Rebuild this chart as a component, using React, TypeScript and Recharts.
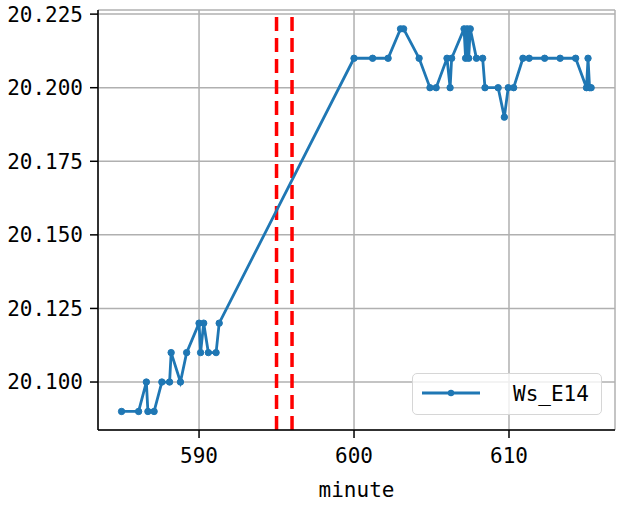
import { LineChart, Line, XAxis, YAxis, CartesianGrid, ReferenceLine } from "recharts";

const minutes = [
  585.0, 586.1, 586.6, 586.7, 587.1, 587.6, 588.1, 588.2, 588.8, 589.2,
  590.0, 590.1, 590.3, 590.6, 591.1, 591.3, 600.0, 601.2, 602.2, 603.0,
  603.2, 604.2, 604.9, 605.3, 606.0, 606.2, 606.3, 607.1, 607.2, 607.3,
  607.4, 607.5, 607.9, 608.3, 608.45, 609.3, 609.7, 609.95, 610.3, 610.9,
  611.3, 612.3, 613.3, 614.3, 615.0, 615.1, 615.2, 615.3,
];
const wsE14 = [
  20.09, 20.09, 20.1, 20.09, 20.09, 20.1, 20.1, 20.11, 20.1, 20.11,
  20.12, 20.11, 20.12, 20.11, 20.11, 20.12, 20.21, 20.21, 20.21, 20.22,
  20.22, 20.21, 20.2, 20.2, 20.21, 20.2, 20.21, 20.22, 20.21, 20.22,
  20.21, 20.22, 20.21, 20.21, 20.2, 20.2, 20.19, 20.2, 20.2, 20.21,
  20.21, 20.21, 20.21, 20.21, 20.2, 20.21, 20.2, 20.2,
];
const markers = [595, 596];
const xTicks = [590, 600, 610];
const yTicks = [20.1, 20.125, 20.15, 20.175, 20.2, 20.225];

const data = minutes.map((m, i) => ({ minute: m, value: wsE14[i] }));

const FONT = '"DejaVu Sans Mono", monospace';
const BLUE = "#1f77b4";

export default function App() {
  const tickStyle = { fill: "#000", fontSize: 21, fontFamily: FONT };
  return (
    <div style={{ position: "absolute", left: 0, top: 0, width: 632, height: 507, background: "#fff" }}>
      <LineChart width={632} height={507} data={data} margin={{ top: 10, right: 17, bottom: 0, left: 0 }}>
        <CartesianGrid stroke="#b0b0b0" strokeWidth={1.5} />
        <XAxis
          dataKey="minute"
          type="number"
          domain={[583.48, 616.84]}
          allowDataOverflow
          ticks={xTicks}
          height={77}
          tick={tickStyle}
          tickSize={8}
          tickMargin={10}
          axisLine={{ stroke: "#000", strokeWidth: 1.5 }}
          tickLine={{ stroke: "#000", strokeWidth: 1.5 }}
          label={{ value: "minute", position: "insideBottom", offset: 10, fill: "#000", fontSize: 21, fontFamily: FONT }}
        />
        <XAxis
          xAxisId="top"
          orientation="top"
          type="number"
          domain={[583.48, 616.84]}
          allowDataOverflow
          height={0}
          tick={false}
          tickLine={false}
          axisLine={{ stroke: "#000", strokeWidth: 1.5 }}
        />
        <YAxis
          type="number"
          domain={[20.0837, 20.2264]}
          allowDataOverflow
          ticks={yTicks}
          width={98}
          tick={tickStyle}
          tickSize={8}
          tickMargin={7}
          tickFormatter={(v: number) => v.toFixed(3)}
          axisLine={{ stroke: "#000", strokeWidth: 1.5 }}
          tickLine={{ stroke: "#000", strokeWidth: 1.5 }}
        />
        <YAxis
          yAxisId="right"
          orientation="right"
          type="number"
          domain={[20.0837, 20.2264]}
          width={0}
          tick={false}
          tickLine={false}
          axisLine={{ stroke: "#000", strokeWidth: 1.5 }}
        />
        {markers.map((m) => (
          <ReferenceLine key={m} x={m} stroke="#ff0000" strokeWidth={3.5} strokeDasharray="14 7" />
        ))}
        <Line
          type="linear"
          dataKey="value"
          stroke={BLUE}
          strokeWidth={2.8}
          dot={{ r: 3.2, fill: BLUE, stroke: BLUE, strokeWidth: 1 }}
          activeDot={false}
          isAnimationActive={false}
        />
      </LineChart>
      <div
        style={{
          position: "absolute",
          left: 412,
          top: 373,
          width: 190,
          height: 42,
          boxSizing: "border-box",
          border: "1.5px solid #d6d6d6",
          borderRadius: 5,
          background: "rgba(255,255,255,0.8)",
          display: "flex",
          alignItems: "center",
          fontFamily: FONT,
          fontSize: 21,
          color: "#000",
        }}
      >
        <svg width={100} height={42} style={{ display: "block" }}>
          <line x1={9} y1={20} x2={67} y2={20} stroke={BLUE} strokeWidth={2.8} />
          <circle cx={38} cy={20} r={3.2} fill={BLUE} />
        </svg>
        <span>Ws_E14</span>
      </div>
    </div>
  );
}
